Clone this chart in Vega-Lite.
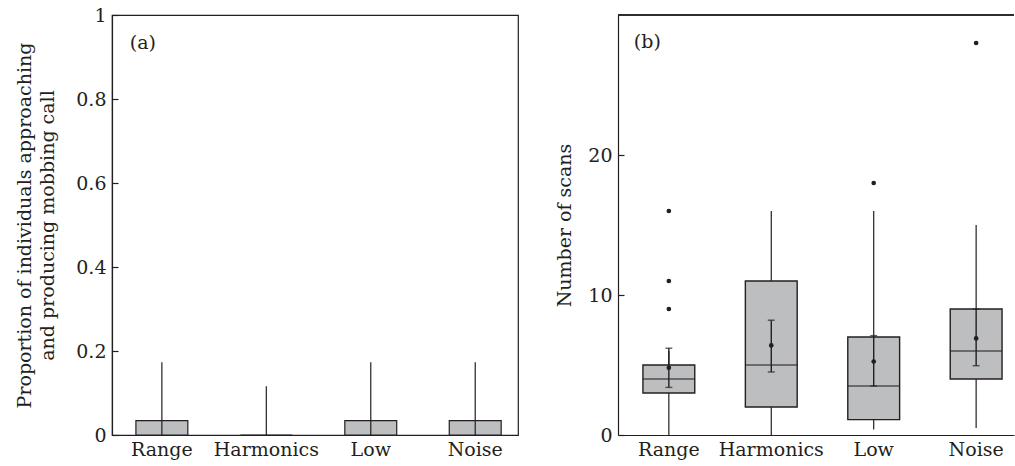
{
  "$schema": "https://vega.github.io/schema/vega-lite/v6.json",
  "padding": {"left": 15, "top": 5, "right": 0, "bottom": 0},
  "spacing": 36,
  "config": {
    "font": "DejaVu Serif",
    "axis": {"grid": false, "labelFont": "DejaVu Serif", "titleFont": "DejaVu Serif", "labelFontSize": 19, "titleFontSize": 19, "titleFontWeight": "normal", "labelColor": "#231f20", "titleColor": "#231f20", "domainColor": "#231f20", "tickColor": "#231f20", "domainWidth": 1.2, "tickWidth": 1.2},
    "text": {"font": "DejaVu Serif"}
  },
  "datasets": {
    "prop": [
      {"condition": "Range", "mean": 0.034, "lo": 0, "hi": 0.173},
      {"condition": "Harmonics", "mean": 0, "lo": 0, "hi": 0.116},
      {"condition": "Low", "mean": 0.034, "lo": 0, "hi": 0.173},
      {"condition": "Noise", "mean": 0.034, "lo": 0, "hi": 0.173}
    ],
    "scans": [
      {"condition": "Range", "lower": 0, "q1": 3, "median": 4, "q3": 5, "upper": 6, "mean": 4.8, "se_lo": 3.4, "se_hi": 6.2},
      {"condition": "Harmonics", "lower": 0, "q1": 2, "median": 5, "q3": 11, "upper": 16, "mean": 6.4, "se_lo": 4.5, "se_hi": 8.2},
      {"condition": "Low", "lower": 0.4, "q1": 1.1, "median": 3.5, "q3": 7, "upper": 16, "mean": 5.25, "se_lo": 3.5, "se_hi": 7.1},
      {"condition": "Noise", "lower": 0.5, "q1": 4, "median": 6, "q3": 9, "upper": 15, "mean": 6.9, "se_lo": 4.95, "se_hi": 9}
    ],
    "outliers": [
      {"condition": "Range", "value": 9},
      {"condition": "Range", "value": 11},
      {"condition": "Range", "value": 16},
      {"condition": "Low", "value": 18},
      {"condition": "Noise", "value": 28}
    ]
  },
  "hconcat": [
    {
      "width": 406,
      "height": 420,
      "view": {"stroke": "#231f20", "strokeWidth": 1.2},
      "data": {"name": "prop"},
      "encoding": {
        "x": {"field": "condition", "type": "nominal", "sort": ["Range", "Harmonics", "Low", "Noise"],
          "scale": {"type": "band", "paddingInner": 0.503, "paddingOuter": 0.195, "align": 0.587},
          "axis": {"title": null, "labelAngle": 0, "ticks": false, "labelPadding": 5}}
      },
      "layer": [
        {
          "mark": {"type": "bar", "fill": "#bcbec0", "stroke": "#231f20", "strokeWidth": 1.2},
          "encoding": {
            "y": {"field": "mean", "type": "quantitative", "scale": {"domain": [0, 1]},
              "axis": {"values": [0, 0.2, 0.4, 0.6, 0.8, 1], "format": "~g", "tickSize": -6, "labelPadding": 12, "titlePadding": 18, "titleLineHeight": 23,
                "title": ["Proportion of individuals approaching", "and producing mobbing call"]}}
          }
        },
        {
          "mark": {"type": "rule", "color": "#231f20", "strokeWidth": 1.2},
          "encoding": {"y": {"field": "lo", "type": "quantitative"}, "y2": {"field": "hi"}}
        },
        {
          "data": {"values": [{"label": "(a)"}]},
          "mark": {"type": "text", "align": "left", "baseline": "middle", "fontSize": 19, "color": "#231f20", "dx": -32},
          "encoding": {"x": {"datum": "Range"}, "y": {"datum": 0.933}, "text": {"field": "label"}}
        }
      ]
    },
    {
      "width": 396,
      "height": 420,
      "view": {"stroke": null},
      "data": {"name": "scans"},
      "layer": [
        {
          "mark": {"type": "rule", "color": "#231f20", "strokeWidth": 1.2},
          "encoding": {
            "x": {"field": "condition", "type": "nominal", "sort": ["Range", "Harmonics", "Low", "Noise"],
              "scale": {"type": "band", "paddingInner": 0.494, "paddingOuter": 0.18, "align": 0.676},
              "axis": {"title": null, "labelAngle": 0, "ticks": false, "labelPadding": 5}},
            "y": {"field": "lower", "type": "quantitative", "scale": {"domain": [0, 30]},
              "axis": {"values": [0, 10, 20], "tickSize": -6, "labelPadding": 12, "titlePadding": 13, "title": "Number of scans"}},
            "y2": {"field": "q1"}
          }
        },
        {
          "mark": {"type": "rule", "color": "#231f20", "strokeWidth": 1.2},
          "encoding": {"x": {"field": "condition", "type": "nominal", "sort": ["Range", "Harmonics", "Low", "Noise"]}, "y": {"field": "q3", "type": "quantitative"}, "y2": {"field": "upper"}}
        },
        {
          "mark": {"type": "bar", "fill": "#bcbec0", "stroke": "#231f20", "strokeWidth": 1.4},
          "encoding": {"x": {"field": "condition", "type": "nominal", "sort": ["Range", "Harmonics", "Low", "Noise"]}, "y": {"field": "q1", "type": "quantitative"}, "y2": {"field": "q3"}}
        },
        {
          "mark": {"type": "tick", "color": "#231f20", "size": 52, "thickness": 1.4},
          "encoding": {"x": {"field": "condition", "type": "nominal", "sort": ["Range", "Harmonics", "Low", "Noise"]}, "y": {"field": "median", "type": "quantitative"}}
        },
        {
          "mark": {"type": "rule", "color": "#231f20", "strokeWidth": 1.4},
          "encoding": {"x": {"field": "condition", "type": "nominal", "sort": ["Range", "Harmonics", "Low", "Noise"]}, "y": {"field": "se_lo", "type": "quantitative"}, "y2": {"field": "se_hi"}}
        },
        {
          "mark": {"type": "tick", "color": "#231f20", "size": 7, "thickness": 1.4},
          "encoding": {"x": {"field": "condition", "type": "nominal", "sort": ["Range", "Harmonics", "Low", "Noise"]}, "y": {"field": "se_lo", "type": "quantitative"}}
        },
        {
          "mark": {"type": "tick", "color": "#231f20", "size": 7, "thickness": 1.4},
          "encoding": {"x": {"field": "condition", "type": "nominal", "sort": ["Range", "Harmonics", "Low", "Noise"]}, "y": {"field": "se_hi", "type": "quantitative"}}
        },
        {
          "mark": {"type": "circle", "color": "#231f20", "size": 22, "opacity": 1},
          "encoding": {"x": {"field": "condition", "type": "nominal", "sort": ["Range", "Harmonics", "Low", "Noise"]}, "y": {"field": "mean", "type": "quantitative"}}
        },
        {
          "data": {"name": "outliers"},
          "mark": {"type": "circle", "color": "#231f20", "size": 22, "opacity": 1},
          "encoding": {"x": {"field": "condition", "type": "nominal", "sort": ["Range", "Harmonics", "Low", "Noise"]}, "y": {"field": "value", "type": "quantitative"}}
        },
        {
          "mark": {"type": "rule", "color": "#231f20", "strokeWidth": 1.2},
          "encoding": {"y": {"datum": 30}}
        },
        {
          "data": {"values": [{"label": "(b)"}]},
          "mark": {"type": "text", "align": "left", "baseline": "middle", "fontSize": 19, "color": "#231f20", "dx": -35},
          "encoding": {"x": {"datum": "Range"}, "y": {"datum": 28.1}, "text": {"field": "label"}}
        }
      ]
    }
  ]
}
